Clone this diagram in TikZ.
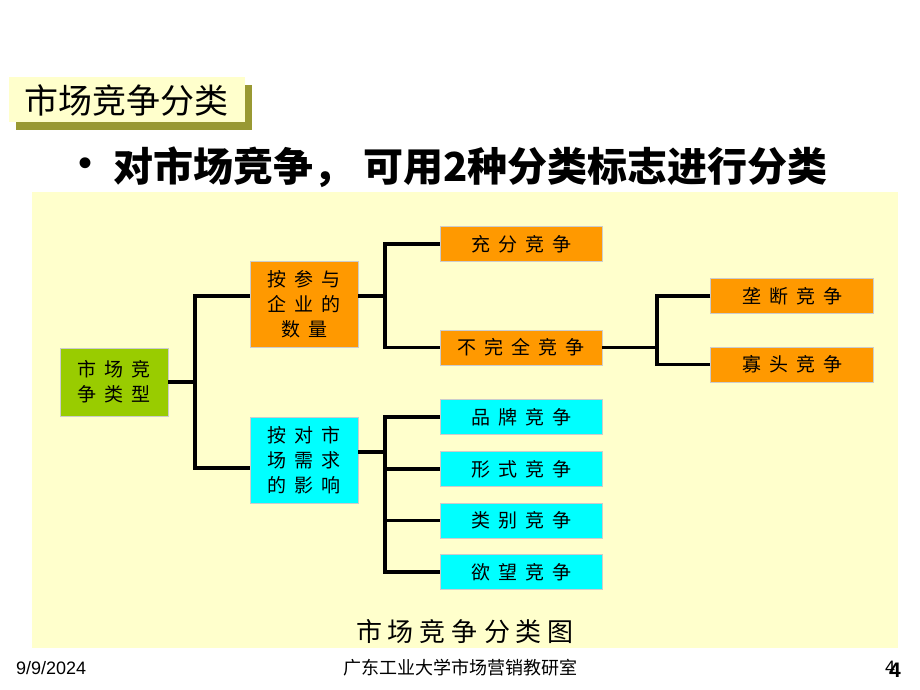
\documentclass[tikz,border=0pt]{standalone}
\usepackage{fontspec}
\setmainfont{Liberation Sans}
\newfontfamily\cjk{Noto Sans CJK SC}
\definecolor{panel}{RGB}{255,255,204}
\definecolor{shadowc}{RGB}{153,153,51}
\definecolor{orangef}{RGB}{255,153,0}
\definecolor{cyanf}{RGB}{0,255,255}
\definecolor{greenf}{RGB}{153,204,0}
\newcommand\gp{\hspace{8pt}}
\newcommand\cgp{\hspace{6pt}}
\tikzset{
  boxbase/.style={inner sep=0pt, draw=black!20, line width=0.5pt, align=center,
    font=\cjk\fontsize{19}{25}\selectfont},
  leafbox/.style={boxbase, minimum width=162, minimum height=35},
  midbox/.style={boxbase, minimum width=108, minimum height=86},
  orangenode/.style={fill=orangef},
  cyannode/.style={fill=cyanf},
  conn/.style={line width=3.5pt, black},
}
\begin{document}
\begin{tikzpicture}[x=1pt,y=-1pt]
\path[use as bounding box, fill=white] (0,0) rectangle (920,690);
% title box
\fill[shadowc] (16,85) rectangle (252,130);
\fill[panel] (9,77) rectangle (245,122);
\node[font=\cjk\fontsize{34}{38}\selectfont, inner sep=0] (title) at (126,100) {市场竞争分类};
% bullet line
\node[font=\fontsize{40}{44}\selectfont, inner sep=0] (bullet) at (86,167) {•};
\node[anchor=west, font=\cjk\bfseries\fontsize{40}{44}\selectfont, inner sep=0] (headline) at (113,167) {对市场竞争，\hspace{10pt}可用2种分类标志进行分类};
% panel
\fill[panel] (32,192) rectangle (898,648);
% nodes
\node[boxbase, fill=greenf, minimum width=108, minimum height=68] (root) at (114,382) {市\gp 场\gp 竞\\争\gp 类\gp 型};
\node[midbox, orangenode] (om) at (304,304) {按\gp 参\gp 与\\企\gp 业\gp 的\\数\gp 量};
\node[midbox, cyannode] (cm) at (304,460) {按\gp 对\gp 市\\场\gp 需\gp 求\\的\gp 影\gp 响};
\node[leafbox, orangenode] (c1) at (521,244) {充\gp 分\gp 竞\gp 争};
\node[leafbox, orangenode] (c2) at (521,347.5) {不\gp 完\gp 全\gp 竞\gp 争};
\node[leafbox, orangenode, minimum width=163] (m1) at (792,296) {垄\gp 断\gp 竞\gp 争};
\node[leafbox, orangenode, minimum width=163] (m2) at (792,364.5) {寡\gp 头\gp 竞\gp 争};
\node[leafbox, cyannode] (d1) at (521,417) {品\gp 牌\gp 竞\gp 争};
\node[leafbox, cyannode] (d2) at (521,469) {形\gp 式\gp 竞\gp 争};
\node[leafbox, cyannode] (d3) at (521,520.5) {类\gp 别\gp 竞\gp 争};
\node[leafbox, cyannode] (d4) at (521,572) {欲\gp 望\gp 竞\gp 争};
% junction coordinates
\coordinate (b1) at (195,382);
\coordinate (b2) at (385,296);
\coordinate (b3) at (657,347.5);
\coordinate (b4) at (385,452);
% connectors
\draw[conn] (root.east) -- (b1);
\draw[conn] ([yshift=8pt]om.west) -| (b1) |- ([yshift=-8pt]cm.west);
\draw[conn] ([yshift=8pt]om.east) -- (b2);
\draw[conn] (c1.west) -| (b2) |- (c2.west);
\draw[conn] (c2.east) -- (b3);
\draw[conn] (m1.west) -| (b3) |- (m2.west);
\draw[conn] ([yshift=8pt]cm.east) -- (b4);
\draw[conn] (d1.west) -| (b4) |- (d4.west);
\draw[conn] (d2.west) -- (d2.west -| b4);
\draw[conn] (d3.west) -- (d3.west -| b4);
% caption
\node[font=\cjk\fontsize{26}{30}\selectfont, inner sep=0] (caption) at (465,632) {市\cgp 场\cgp 竞\cgp 争\cgp 分\cgp 类\cgp 图};
% footer
\node[anchor=west, font=\fontsize{18}{20}\selectfont, inner sep=0] (date) at (16,668) {9/9/2024};
\node[font=\cjk\fontsize{18}{20}\selectfont, inner sep=0] (org) at (460,668) {广东工业大学市场营销教研室};
\node[font=\fontsize{18}{20}\selectfont, inner sep=0] (pg1) at (890,667) {4};
\node[font=\bfseries\fontsize{21}{22}\selectfont, inner sep=0] (pg2) at (895,670) {4};
\end{tikzpicture}
\end{document}
